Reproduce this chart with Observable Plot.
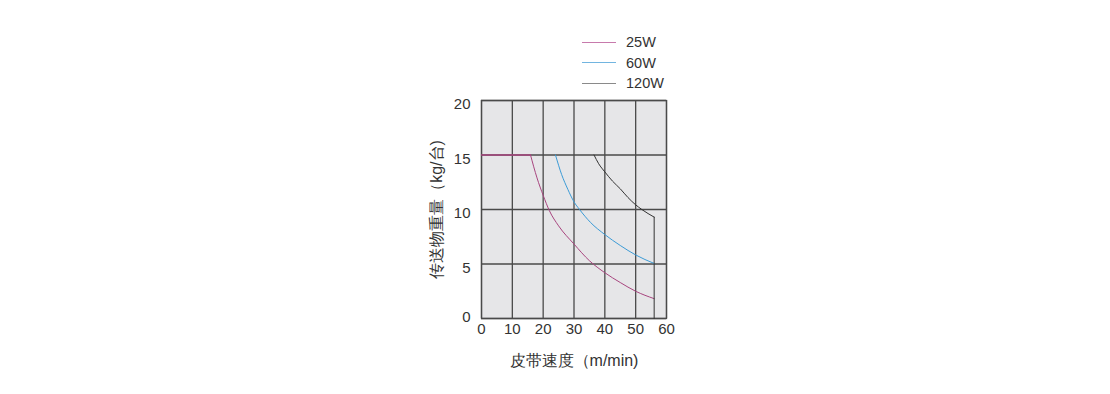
<!DOCTYPE html>
<html><head><meta charset="utf-8">
<script src="https://cdn.jsdelivr.net/npm/d3@7"></script>
<script src="https://cdn.jsdelivr.net/npm/@observablehq/plot@0.6"></script>
<style>
html,body{margin:0;padding:0;background:#fff;}
#wrap{position:relative;width:1110px;height:394px;font-family:"Liberation Sans",Arial,sans-serif;}
#legend{position:absolute;left:582px;top:32px;font-size:14.5px;color:#333;line-height:20.5px;}
#legend div{display:flex;align-items:center;}
#legend span.sw{display:inline-block;width:34px;height:1px;margin-right:10px;}
</style>
</head><body>
<div id="wrap"><div id="legend"></div></div>
<script>
const seriesNames = ["25W", "60W", "120W"];
const seriesColors = ["#a8457f", "#3c9bd6", "#333333"];
const legendColors = ["#c77aac", "#72b5e0", "#8a8a8a"];
const speed25 = [0, 15.9, 18, 20, 22, 25, 30, 35, 40, 45, 50, 56];
const weight25 = [15, 15, 12.9, 11.3, 9.9, 8.5, 6.83, 5.3, 4.2, 3.3, 2.5, 1.82];
const speed60 = [24, 26, 28, 30, 31.8, 35.3, 40, 45, 50, 56];
const weight60 = [15, 13.2, 11.85, 10.7, 10, 8.83, 7.7, 6.7, 5.83, 5.05];
const speed120 = [36.5, 38, 40, 42.5, 45, 47.5, 50, 52, 56];
const weight120 = [15, 14.2, 13.45, 12.6, 11.9, 11.1, 10.43, 10.0, 9.3];
const drop120Speed = [56, 56];
const drop120Weight = [9.3, 0];
const xTicks = [0, 10, 20, 30, 40, 50, 60];
const yTicks = [0, 5, 10, 15, 20];

const rows = [];
[[speed120, weight120, 2], [speed60, weight60, 1], [speed25, weight25, 0]].forEach(([sx, sy, i]) => {
  sx.forEach((v, j) => rows.push({series: seriesNames[i], v, w: sy[j]}));
});
const knee25 = rows.filter(d => d.series === "25W" && d.w >= 15);
const curves = rows.filter(d => !(d.series === "25W" && d.v === 0));
const drop = drop120Speed.map((v, i) => ({series: "120W", v, w: drop120Weight[i]}));

const chart = Plot.plot({
  width: 1110, height: 394,
  marginLeft: 481, marginRight: 444, marginTop: 100, marginBottom: 76,
  style: {fontFamily: '"Liberation Sans", Arial, sans-serif', fontSize: "15px", color: "#333", background: "transparent"},
  x: {domain: [0, 60], ticks: xTicks, tickSize: 0, tickPadding: 5, label: "皮带速度（m/min)", labelAnchor: "center", labelOffset: 47, labelArrow: "none"},
  y: {domain: [0, 20], ticks: yTicks, tickSize: 0, tickPadding: 11, label: "传送物重量（kg/台)", labelAnchor: "center", labelOffset: 51, labelArrow: "none"},
  color: {domain: seriesNames, range: seriesColors},
  marks: [
    Plot.frame({fill: "#e6e6e8", stroke: null}),
    Plot.gridX(xTicks, {stroke: "#4a4a4a", strokeOpacity: 1, strokeWidth: 1.3}),
    Plot.gridY(yTicks, {stroke: "#4a4a4a", strokeOpacity: 1, strokeWidth: 1.3}),
    Plot.frame({stroke: "#4a4a4a", strokeWidth: 1.3}),
    Plot.line(curves, {x: "v", y: "w", z: "series", stroke: "series", strokeWidth: 1, curve: "monotone-x"}),
    Plot.line(knee25, {x: "v", y: "w", stroke: "series", strokeWidth: 1.3}),
    Plot.line(drop, {x: "v", y: "w", stroke: "series", strokeWidth: 1})
  ]
});
chart.style.position = "absolute";
chart.style.left = "0";
chart.style.top = "0";
chart.querySelectorAll('[aria-label="y-axis tick label"] text').forEach(t => {
  t.setAttribute("dy", t.textContent.trim() === "0" ? "-1" : "4");
});
chart.querySelectorAll('[aria-label="x-axis label"] text, [aria-label="y-axis label"] text').forEach(t => t.style.fontSize = "16px");
document.getElementById("wrap").prepend(chart);

const lg = document.getElementById("legend");
seriesNames.forEach((n, i) => {
  const row = document.createElement("div");
  const sw = document.createElement("span");
  sw.className = "sw";
  sw.style.background = legendColors[i];
  row.appendChild(sw);
  row.appendChild(document.createTextNode(n));
  lg.appendChild(row);
});
</script>
</body></html>
